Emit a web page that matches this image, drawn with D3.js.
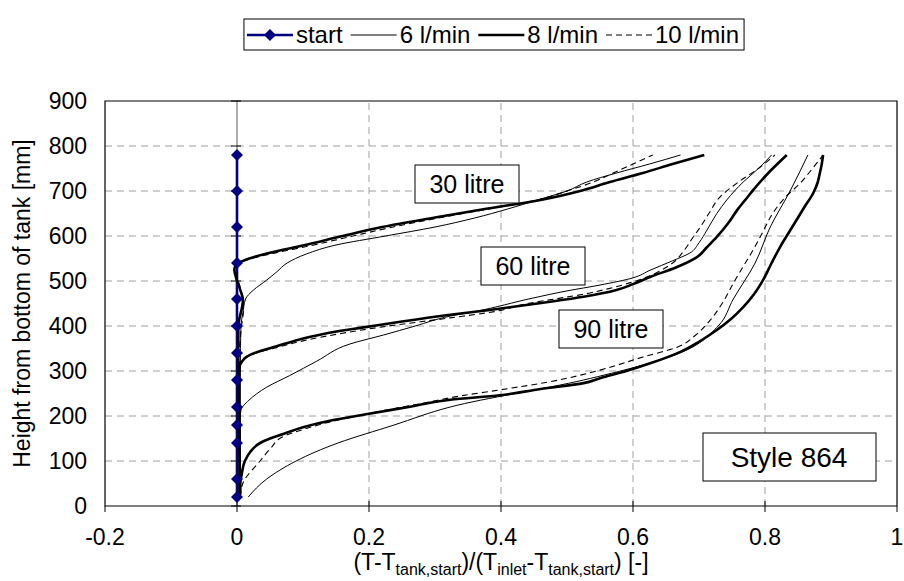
<!DOCTYPE html>
<meta charset="utf-8">
<script src="https://cdn.jsdelivr.net/npm/d3@7/dist/d3.min.js"></script>
<style>
body { margin: 0; background: #fff; }
svg { font-family: "Liberation Sans", Arial, sans-serif; }
.grid { stroke: #a0a0a0; stroke-width: 1; stroke-dasharray: 7,5; }
.frame { stroke: #000; stroke-width: 1.2; fill: none; }
.tick { stroke: #000; stroke-width: 1; }
.lab { font-size: 23px; fill: #000; }
.thin { stroke: #000; stroke-width: 1; fill: none; }
.thick { stroke: #000; stroke-width: 2.6; fill: none; }
.dash { stroke: #000; stroke-width: 1.1; fill: none; stroke-dasharray: 6,4; }
.box { fill: #fff; stroke: #000; stroke-width: 1; }
</style>
<svg width="904" height="581"></svg>
<script>

// start profile (all at 0)
var startH = [20, 60, 140, 180, 220, 280, 340, 400, 460, 540, 620, 700, 780];
var startX = [0, 0, 0, 0, 0, 0, 0, 0, 0, 0, 0, 0, 0];

// [x, height] pairs
var c30_6 = [[0.004,20],[0.005,100],[0.005,200],[0.005,300],[0.006,400],[0.009,430],[0.013,460],[0.025,480],[0.045,502],[0.06,520],[0.076,540],[0.105,560],[0.15,580],[0.225,600],[0.3,620],[0.36,640],[0.41,660],[0.455,680],[0.5,700],[0.53,720],[0.575,740],[0.625,760],[0.672,780]];
var c30_8 = [[0.004,20],[0.004,100],[0.003,200],[0.002,300],[0.002,398],[0.009,458],[0.005,480],[-0.002,510],[-0.004,525],[-0.001,536],[0.006,543],[0.025,553],[0.05,563],[0.1,579],[0.16,600],[0.22,620],[0.3,641],[0.38,661],[0.46,680],[0.52,700],[0.565,720],[0.615,740],[0.66,760],[0.708,780]];
var c30_10 = [[0.005,20],[0.005,100],[0.004,200],[0.003,300],[0.006,390],[0.01,440],[0.006,480],[0.0,510],[-0.002,525],[0.003,535],[0.012,545],[0.03,553],[0.06,563],[0.11,578],[0.17,598],[0.23,618],[0.305,640],[0.385,661],[0.455,680],[0.5,700],[0.54,720],[0.57,740],[0.6,760],[0.63,780]];

var c60_6 = [[0.004,20],[0.004,100],[0.004,180],[0.006,213],[0.018,235],[0.045,264],[0.08,290],[0.121,322],[0.171,360],[0.222,380],[0.27,400],[0.323,422],[0.36,432],[0.448,462],[0.5,478],[0.55,491],[0.6,507],[0.626,524],[0.66,545],[0.686,562],[0.7,585],[0.712,613],[0.727,650],[0.742,680],[0.767,720],[0.79,750],[0.81,780]];
var c60_8 = [[0.004,20],[0.004,100],[0.003,200],[0.003,280],[0.004,310],[0.008,322],[0.015,332],[0.03,342],[0.06,355],[0.095,370],[0.14,385],[0.197,398],[0.25,410],[0.323,425],[0.38,435],[0.43,445],[0.48,455],[0.525,465],[0.575,480],[0.6,493],[0.626,509],[0.665,530],[0.697,553],[0.712,575],[0.727,598],[0.745,630],[0.758,658],[0.77,680],[0.782,702],[0.805,740],[0.833,780]];
var c60_10 = [[0.004,20],[0.004,100],[0.004,200],[0.003,280],[0.004,315],[0.01,328],[0.03,340],[0.06,352],[0.1,367],[0.16,384],[0.22,398],[0.323,418],[0.39,432],[0.44,450],[0.49,462],[0.53,472],[0.56,482],[0.6,498],[0.635,518],[0.66,540],[0.678,569],[0.69,595],[0.702,620],[0.715,650],[0.732,687],[0.758,718],[0.79,750],[0.815,780]];

var c90_6 = [[0.017,20],[0.045,60],[0.153,140],[0.238,180],[0.323,220],[0.525,280],[0.671,340],[0.729,400],[0.752,460],[0.785,540],[0.808,620],[0.838,700],[0.865,780]];
var c90_8 = [[0.003,20],[0.005,29],[0.005,50],[0.007,69],[0.012,100],[0.02,120],[0.035,140],[0.05,150],[0.07,160],[0.1,175],[0.146,191],[0.2,205],[0.26,220],[0.323,236],[0.398,246],[0.46,260],[0.525,273],[0.55,284],[0.59,300],[0.626,317],[0.671,342],[0.7,365],[0.727,391],[0.748,415],[0.767,442],[0.783,470],[0.797,502],[0.81,540],[0.823,576],[0.835,605],[0.848,636],[0.86,665],[0.873,695],[0.88,720],[0.883,739],[0.886,760],[0.888,780]];
var c90_10 = [[0.005,20],[0.009,51],[0.035,100],[0.052,130],[0.068,153],[0.1,170],[0.15,190],[0.215,210],[0.28,228],[0.34,245],[0.398,258],[0.47,275],[0.55,302],[0.615,331],[0.667,353],[0.695,380],[0.717,413],[0.735,450],[0.752,495],[0.766,530],[0.782,569],[0.797,610],[0.812,651],[0.83,685],[0.853,717],[0.872,750],[0.888,780]];

var xTicks = [-0.2, 0, 0.2, 0.4, 0.6, 0.8, 1];
var yTicks = [0, 100, 200, 300, 400, 500, 600, 700, 800, 900];
var legendNames = ["start", "6 l/min", "8 l/min", "10 l/min"];
var volumeLabels = ["30 litre", "60 litre", "90 litre"];

var svg = d3.select("svg");
var x = d3.scaleLinear().domain([-0.2, 1]).range([105, 897]);
var y = d3.scaleLinear().domain([0, 900]).range([506, 101]);

// grid
svg.append("g").selectAll("line")
    .data(yTicks.filter(function(d) { return d > 0 && d < 900; }))
    .enter().append("line").attr("class", "grid")
    .attr("x1", x(-0.2)).attr("x2", x(1))
    .attr("y1", function(d) { return y(d); }).attr("y2", function(d) { return y(d); });
svg.append("g").selectAll("line")
    .data(xTicks.filter(function(d) { return d > 0 && d < 1; }))
    .enter().append("line").attr("class", "grid")
    .attr("y1", y(0)).attr("y2", y(900))
    .attr("x1", function(d) { return x(d); }).attr("x2", function(d) { return x(d); });

// vertical axis at x = 0
svg.append("line").attr("x1", x(0)).attr("x2", x(0)).attr("y1", y(0)).attr("y2", y(900))
    .attr("stroke", "#777").attr("stroke-width", 1.2);
svg.append("g").selectAll("line").data(yTicks).enter().append("line").attr("class", "tick")
    .attr("stroke", "#444")
    .attr("x1", x(0) - 6).attr("x2", x(0) + 4)
    .attr("y1", function(d) { return y(d); }).attr("y2", function(d) { return y(d); });

// frame
svg.append("path").attr("class", "frame")
    .attr("d", "M" + x(-0.2) + "," + y(0) + "V" + y(900) + "H" + x(1) + "V" + y(0) + "Z");
svg.append("g").selectAll("line").data(xTicks).enter().append("line").attr("class", "tick")
    .attr("x1", function(d) { return x(d); }).attr("x2", function(d) { return x(d); })
    .attr("y1", function(d) { return d == -0.2 || d == 1 ? y(0) : y(0) - 5; })
    .attr("y2", y(0) + 6);

// tick labels
svg.append("g").selectAll("text").data(yTicks).enter().append("text").attr("class", "lab")
    .attr("x", 87).attr("y", function(d) { return y(d) + 8; })
    .attr("text-anchor", "end").text(function(d) { return d; });
svg.append("g").selectAll("text").data(xTicks).enter().append("text").attr("class", "lab")
    .attr("x", function(d) { return x(d); }).attr("y", 545)
    .attr("text-anchor", "middle").text(function(d) { return d; });

// axis titles
svg.append("text").attr("class", "lab")
    .attr("transform", "translate(30," + ((y(0) + y(900)) / 2) + ") rotate(-90)")
    .attr("text-anchor", "middle").text("Height from bottom of tank [mm]");
var xt = svg.append("text").attr("class", "lab")
    .attr("x", (x(-0.2) + x(1)) / 2).attr("y", 570).attr("text-anchor", "middle");
[["(T-T", 0], ["tank,start", 1], [")/(T", 0], ["inlet", 1], ["-T", 0], ["tank,start", 1], [") [-]", 0]]
    .forEach(function(p, i, arr) {
        var dy = 0;
        if (p[1] && (i == 0 || !arr[i - 1][1])) dy = 5;
        if (!p[1] && i > 0 && arr[i - 1][1]) dy = -5;
        xt.append("tspan").attr("dy", dy)
            .style("font-size", p[1] ? "16px" : "23px").text(p[0]);
    });

// curves
var line = d3.line()
    .x(function(d) { return x(d[0]); })
    .y(function(d) { return y(d[1]); })
    .curve(d3.curveMonotoneY);

var start = startH.map(function(h, i) { return [startX[i], h]; });
svg.append("path").datum(start).attr("d", d3.line()
        .x(function(d) { return x(d[0]); }).y(function(d) { return y(d[1]); }))
    .attr("stroke", "#000080").attr("stroke-width", 2.6).attr("fill", "none");

var series = [
    [c30_6, "thin"], [c30_8, "thick"], [c30_10, "dash"],
    [c60_6, "thin"], [c60_8, "thick"], [c60_10, "dash"],
    [c90_6, "thin"], [c90_8, "thick"], [c90_10, "dash"]
];
series.forEach(function(s) {
    svg.append("path").datum(s[0]).attr("class", s[1]).attr("d", line);
});

var diamond = d3.symbol().type(d3.symbolSquare).size(72);
svg.append("g").selectAll("path").data(start).enter().append("path")
    .attr("d", diamond)
    .attr("transform", function(d) { return "translate(" + x(d[0]) + "," + y(d[1]) + ") rotate(45)"; })
    .attr("fill", "#000080");

// volume labels
var boxes = [[415, 165], [481, 247], [559, 310]];
volumeLabels.forEach(function(t, i) {
    var b = boxes[i];
    svg.append("rect").attr("class", "box")
        .attr("x", b[0]).attr("y", b[1]).attr("width", 104).attr("height", 38);
    svg.append("text").attr("x", b[0] + 52).attr("y", b[1] + 28)
        .attr("text-anchor", "middle").style("font-size", "25px").text(t);
});
svg.append("rect").attr("class", "box")
    .attr("x", 703).attr("y", 433).attr("width", 173).attr("height", 48);
svg.append("text").attr("x", 789).attr("y", 467)
    .attr("text-anchor", "middle").style("font-size", "28px").text("Style 864");

// legend
var lg = svg.append("g");
var lbox = lg.append("rect").attr("class", "box").attr("y", 19).attr("height", 31);
var cx = 0, ly = 35;
var styles = ["start", "thin", "thick", "dash"];
legendNames.forEach(function(name, i) {
    if (styles[i] == "start") {
        lg.append("line").attr("x1", cx).attr("x2", cx + 46).attr("y1", ly).attr("y2", ly)
            .attr("stroke", "#000080").attr("stroke-width", 2.6);
        lg.append("path").attr("d", diamond)
            .attr("transform", "translate(" + (cx + 23) + "," + ly + ") rotate(45)")
            .attr("fill", "#000080");
    } else {
        lg.append("line").attr("class", styles[i])
            .attr("x1", cx).attr("x2", cx + 46).attr("y1", ly).attr("y2", ly);
    }
    var t = lg.append("text").attr("class", "lab").style("font-size", "24px")
        .attr("x", cx + 49).attr("y", ly + 8).text(name);
    cx += 49 + t.node().getComputedTextLength() + 8;
});
var lw = cx - 8 + 8;
var lx = 494 - lw / 2;
lg.attr("transform", "translate(" + (lx + 3) + ",0)");
lbox.attr("x", -3).attr("width", lw);

</script>
